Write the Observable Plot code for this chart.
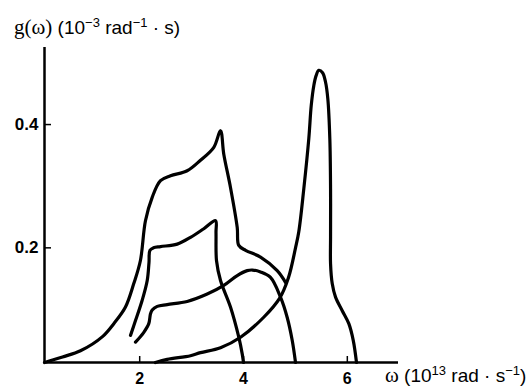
<!DOCTYPE html>
<html><head><meta charset="utf-8">
<script src="https://cdn.jsdelivr.net/npm/d3@7"></script>
<script src="https://cdn.jsdelivr.net/npm/@observablehq/plot@0.6"></script>
<style>html,body{margin:0;padding:0;background:#fff}</style>
</head><body><div id="chart"></div>
<script>
// Tick values
const xTicks = [2, 4, 6];
const yTicks = [0.2, 0.4];

// Curve A (largest, peak ~0.39 at ω≈3.56)
const omegaA = [0.166, 0.513, 0.859, 1.283, 1.501, 1.726, 1.886, 2.013, 2.111, 2.241, 2.401, 2.594, 2.915, 3.171, 3.428, 3.557, 3.620, 3.749, 3.879, 3.909, 4.040, 4.328, 4.649, 4.809];
const gA     = [0.014, 0.023, 0.033, 0.056, 0.077, 0.104, 0.142, 0.179, 0.244, 0.282, 0.309, 0.317, 0.325, 0.342, 0.363, 0.390, 0.352, 0.298, 0.233, 0.204, 0.196, 0.185, 0.163, 0.144];

// Curve B (middle, peak ~0.244 at ω≈3.46)
const omegaB = [1.823, 1.919, 2.048, 2.145, 2.179, 2.198, 2.266, 2.401, 2.723, 2.979, 3.235, 3.461, 3.470, 3.480, 3.557, 3.749, 3.909, 3.975, 4.000];
const gB     = [0.058, 0.082, 0.115, 0.147, 0.176, 0.196, 0.200, 0.202, 0.206, 0.217, 0.231, 0.244, 0.225, 0.179, 0.147, 0.104, 0.055, 0.028, 0.014];

// Curve C (lowest, peak ~0.164 at ω≈4.15)
const omegaC = [1.919, 2.079, 2.175, 2.208, 2.241, 2.337, 2.530, 2.915, 3.301, 3.620, 3.879, 4.071, 4.173, 4.328, 4.520, 4.713, 4.842, 4.938, 5.002];
const gC     = [0.047, 0.063, 0.077, 0.093, 0.099, 0.105, 0.108, 0.113, 0.125, 0.139, 0.155, 0.163, 0.164, 0.161, 0.152, 0.120, 0.087, 0.050, 0.014];

// Curve D (sharp peak ~0.488 at ω≈5.45)
const omegaD = [2.303, 2.530, 2.979, 3.171, 3.557, 3.943, 4.385, 4.694, 4.867, 5.002, 5.065, 5.162, 5.258, 5.305, 5.354, 5.397, 5.451, 5.523, 5.580, 5.624, 5.663, 5.677, 5.677, 5.677, 5.709, 5.773, 5.902, 6.029, 6.114, 6.177];
const gD     = [0.014, 0.019, 0.025, 0.030, 0.038, 0.055, 0.087, 0.118, 0.152, 0.200, 0.226, 0.296, 0.377, 0.431, 0.463, 0.479, 0.488, 0.484, 0.469, 0.442, 0.377, 0.296, 0.218, 0.174, 0.142, 0.120, 0.098, 0.077, 0.050, 0.014];

const xDomain = [0.166, 6.986];
const yDomain = [0.014, 0.525];

const series = [[omegaA, gA], [omegaB, gB], [omegaC, gC], [omegaD, gD]];
const rows = series.flatMap(([w, g], k) => w.map((v, i) => ({curve: k, omega: v, g: g[i]})));

const plot = Plot.plot({
  width: 531,
  height: 387,
  marginLeft: 44,
  marginRight: 133,
  marginTop: 47,
  marginBottom: 25,
  x: {domain: xDomain},
  y: {domain: yDomain},
  style: {fontFamily: "'Liberation Sans', Arial, sans-serif", background: "#fff", color: "#000"},
  marks: [
    Plot.ruleY([yDomain[0]], {stroke: "#000", strokeWidth: 2.5}),
    Plot.ruleX([xDomain[0]], {stroke: "#000", strokeWidth: 2.5}),
    Plot.axisX(xTicks, {tickSize: -6, tickPadding: 16, fontSize: 16, fontWeight: "bold", label: null, strokeWidth: 1.5}),
    Plot.axisY(yTicks, {tickSize: -7, tickPadding: 13, fontSize: 17, fontWeight: "bold", label: null, strokeWidth: 1.5, tickFormat: d => d.toFixed(1)}),
    Plot.line(rows, {x: "omega", y: "g", z: "curve", stroke: "#000", strokeWidth: 3.2, curve: "catmull-rom", strokeLinejoin: "round"})
  ]
});
document.getElementById("chart").appendChild(plot);

const svg = d3.select(plot);
const sans = "'Liberation Sans', Arial, sans-serif";
const serif = "'Liberation Serif', 'Times New Roman', serif";
// y-axis label
const yl = svg.append("text").attr("x", 14).attr("y", 34).attr("text-anchor", "start")
  .attr("font-size", 19).attr("font-family", sans).attr("fill", "#000");
yl.append("tspan").attr("font-family", serif).attr("font-size", 21).text("g(ω)");
yl.append("tspan").text(" (10");
yl.append("tspan").attr("font-size", 13).attr("dy", -7).text("−3");
yl.append("tspan").attr("dy", 7).text(" rad");
yl.append("tspan").attr("font-size", 13).attr("dy", -7).text("−1");
yl.append("tspan").attr("dy", 7).text(" · s)");

// x-axis label
const xl = svg.append("text").attr("x", 385).attr("y", 382).attr("text-anchor", "start")
  .attr("font-size", 19).attr("font-family", sans).attr("fill", "#000");
xl.append("tspan").attr("font-family", serif).attr("font-size", 21).text("ω");
xl.append("tspan").text(" (10");
xl.append("tspan").attr("font-size", 13).attr("dy", -7).text("13");
xl.append("tspan").attr("dy", 7).text(" rad · s");
xl.append("tspan").attr("font-size", 13).attr("dy", -7).text("−1");
xl.append("tspan").attr("dy", 7).text(")");
</script>
</body></html>
